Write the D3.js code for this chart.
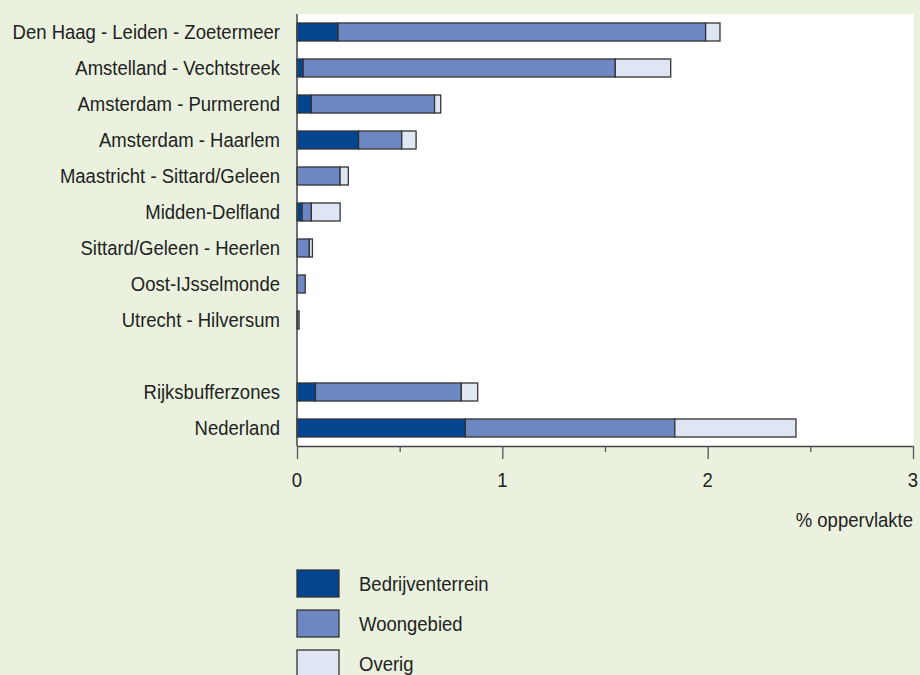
<!DOCTYPE html>
<html>
<head>
<meta charset="utf-8">
<script src="https://cdn.jsdelivr.net/npm/d3@7"></script>
<style>
  html, body { margin: 0; padding: 0; background: #eaf2df; }
  svg { display: block; font-family: "Liberation Sans", Arial, sans-serif; }
</style>
</head>
<body>
<svg id="chart" width="920" height="675"></svg>
<script>
// Regions (top to bottom); the empty string leaves a gap row
const categories = [
  "Den Haag - Leiden - Zoetermeer",
  "Amstelland - Vechtstreek",
  "Amsterdam - Purmerend",
  "Amsterdam - Haarlem",
  "Maastricht - Sittard/Geleen",
  "Midden-Delfland",
  "Sittard/Geleen - Heerlen",
  "Oost-IJsselmonde",
  "Utrecht - Hilversum",
  "",
  "Rijksbufferzones",
  "Nederland"
];
const bedrijventerrein = [0.20, 0.03, 0.07, 0.30, 0.00, 0.025, 0.00, 0.00, 0.00, 0, 0.09, 0.82];
const woongebied       = [1.79, 1.52, 0.60, 0.21, 0.21, 0.045, 0.06, 0.04, 0.01, 0, 0.71, 1.02];
const overig           = [0.07, 0.27, 0.03, 0.07, 0.04, 0.14, 0.015, 0.00, 0.00, 0, 0.08, 0.59];
const seriesNames = ["Bedrijventerrein", "Woongebied", "Overig"];
const seriesColors = ["#03468f", "#6d87c2", "#dfe5f2"];
const xTicks = [0, 1, 2, 3];
const xMinorTicks = [0.5, 1.5, 2.5];
const xTitle = "% oppervlakte";

const svg = d3.select("#chart");
const plotLeft = 297, plotRight = 913, plotTop = 14, plotBottom = 446;
const fontSize = 19.5, squeeze = 0.95;   // slightly condensed lettering

const x = d3.scaleLinear().domain([0, 3]).range([plotLeft, plotRight]);
const y = d3.scaleBand().domain(d3.range(categories.length)).range([plotTop, plotBottom]).paddingInner(0.5).paddingOuter(0.25);

// draws a condensed text anchored at (tx, ty)
function label(parent, tx, ty, str, anchor) {
  return parent.append("text")
    .attr("transform", `translate(${tx},${ty}) scale(${squeeze},1)`)
    .attr("text-anchor", anchor)
    .attr("font-size", fontSize)
    .attr("fill", "#222")
    .text(str);
}

// white plot area
svg.append("rect").attr("x", plotLeft).attr("y", plotTop).attr("width", 914 - plotLeft).attr("height", plotBottom - plotTop).attr("fill", "#ffffff");

// stacked bars
const rows = categories.map((c, i) => ({ i, Bedrijventerrein: bedrijventerrein[i], Woongebied: woongebied[i], Overig: overig[i] }));
const stack = d3.stack().keys(seriesNames)(rows);
stack.forEach((layer, k) => {
  svg.append("g").selectAll("rect")
    .data(layer.filter(d => categories[d.data.i] !== "" && d[1] - d[0] > 0))
    .join("rect")
    .attr("x", d => x(d[0]))
    .attr("y", d => y(d.data.i))
    .attr("width", d => x(d[1]) - x(d[0]))
    .attr("height", y.bandwidth())
    .attr("fill", seriesColors[k])
    .attr("stroke", "#333")
    .attr("stroke-width", 1.3);
});

// category labels
const catG = svg.append("g");
categories.forEach((c, i) => {
  if (c) label(catG, 280, y(i) + y.bandwidth() / 2 + 0.35 * fontSize, c, "end");
});

// y axis line
svg.append("line").attr("x1", plotLeft).attr("x2", plotLeft).attr("y1", plotTop).attr("y2", plotBottom)
  .attr("stroke", "#444").attr("stroke-width", 1.5);

// x axis with major and minor ticks
const xAxis = svg.append("g").attr("transform", `translate(0,${plotBottom})`)
  .call(d3.axisBottom(x).tickValues(xTicks).tickFormat(d3.format("d")).tickSize(13).tickSizeOuter(0));
xAxis.select(".domain").attr("stroke", "#444").attr("stroke-width", 1.5);
xAxis.selectAll(".tick line").attr("stroke", "#555").attr("stroke-width", 1.3);
xAxis.selectAll(".tick text").remove();
const tickG = svg.append("g");
xTicks.forEach(t => label(tickG, x(t), 487, d3.format("d")(t), "middle"));
svg.append("g").attr("transform", `translate(0,${plotBottom})`)
  .call(d3.axisBottom(x).tickValues(xMinorTicks).tickFormat("").tickSize(6).tickSizeOuter(0))
  .call(g => g.select(".domain").remove())
  .selectAll(".tick line").attr("stroke", "#555").attr("stroke-width", 1.3);

// axis title
label(svg, 913, 527, xTitle, "end");

// legend
const legend = svg.append("g").selectAll("g").data(seriesNames).join("g")
  .attr("transform", (d, i) => `translate(297,${570 + i * 40})`);
legend.append("rect").attr("width", 42).attr("height", 27)
  .attr("fill", (d, i) => seriesColors[i]).attr("stroke", "#333").attr("stroke-width", 1.3);
legend.each(function (d) { label(d3.select(this), 62, 21, d, "start"); });
</script>
</body>
</html>
